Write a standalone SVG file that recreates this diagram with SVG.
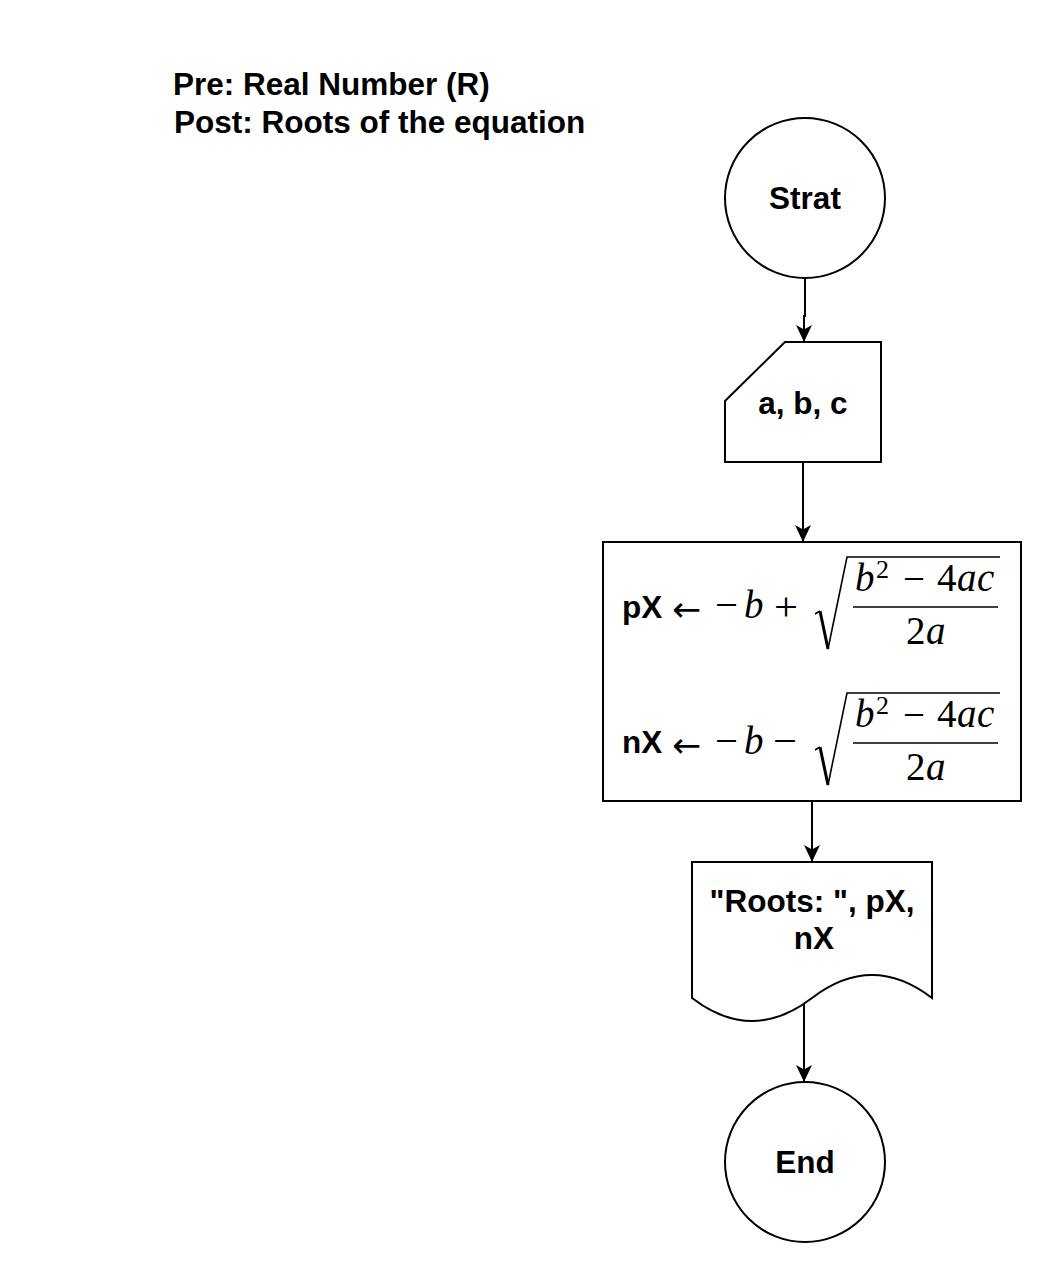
<svg xmlns="http://www.w3.org/2000/svg" width="1055" height="1274" viewBox="0 0 1055 1274">
<style>
.shape{fill:#fff;stroke:#000;stroke-width:2}
.lbl{font-family:"Liberation Sans",Arial,sans-serif;font-weight:bold;font-size:31.5px;fill:#000}
.c{text-anchor:middle}
.conn{fill:none;stroke:#000;stroke-width:2}
.mi{font-family:"Liberation Serif","Times New Roman",serif;font-style:italic;font-size:39px;fill:#000}
.mr{font-family:"Liberation Serif","Times New Roman",serif;font-size:39px;fill:#000}
.op{font-family:"Liberation Serif","Times New Roman",serif;font-size:40px;fill:#000}
.sup{font-family:"Liberation Serif","Times New Roman",serif;font-size:26px;fill:#000}
.arw{font-family:"DejaVu Sans",sans-serif;font-size:34px;fill:#000}
.rule{stroke:#000;stroke-width:1.6;fill:none}
</style>
<defs>
<marker id="ah" markerUnits="userSpaceOnUse" viewBox="0 0 17 16" markerWidth="17" markerHeight="16" refX="17" refY="8" orient="auto">
<path d="M0,0 L17,8 L0,16 L4.5,8 Z" fill="#000"/>
</marker>
</defs>
<rect width="1055" height="1274" fill="#fff"/>

<g id="title">
<text class="lbl" x="173" y="95">Pre: Real Number (R)</text>
<text class="lbl" x="174" y="133">Post: Roots of the equation</text>
</g>

<g id="connectors">
<path class="conn" d="M805,279 V316 H804 V342" marker-end="url(#ah)"/>
<path class="conn" d="M803,462 V542" marker-end="url(#ah)"/>
<path class="conn" d="M812,801 V862" marker-end="url(#ah)"/>
<path class="conn" d="M804,1002 V1082" marker-end="url(#ah)"/>
</g>

<g id="start">
<circle class="shape" cx="805" cy="198" r="80"/>
<text class="lbl c" x="805" y="209">Strat</text>
</g>

<g id="input">
<path class="shape" d="M785,342 H881 V462 H725 V401 Z"/>
<text class="lbl c" x="803" y="414">a, b, c</text>
</g>

<g id="process">
<rect class="shape" x="603" y="542" width="418" height="259"/>
<g id="row1">
<text class="lbl" x="622" y="618">pX</text>
<text class="arw" x="672" y="621" textLength="29" lengthAdjust="spacingAndGlyphs">←</text>
<text class="op" x="715" y="618" textLength="23" lengthAdjust="spacingAndGlyphs">−</text>
<text class="mi" x="744" y="618">b</text>
<text class="op" x="774" y="620" textLength="24" lengthAdjust="spacingAndGlyphs">+</text>
<path class="rule" d="M815,614 L820,611"/>
<path d="M820,611 L828,649" stroke="#000" stroke-width="3" fill="none"/>
<path class="rule" d="M828,649 L847,557 H1000"/>
<text class="mi" x="855" y="591">b</text>
<text class="sup" x="876" y="578">2</text>
<text class="op" x="903" y="592" textLength="22" lengthAdjust="spacingAndGlyphs">−</text>
<text class="mr" x="937" y="591">4</text>
<text class="mi" x="957" y="591">a</text>
<text class="mi" x="977" y="591">c</text>
<line class="rule" x1="853" y1="607" x2="998" y2="607"/>
<text class="mr" x="906" y="644">2</text>
<text class="mi" x="926" y="644">a</text>
</g>
<g id="row2" transform="translate(0,136)">
<text class="lbl" x="622" y="617">nX</text>
<text class="arw" x="672" y="621" textLength="29" lengthAdjust="spacingAndGlyphs">←</text>
<text class="op" x="715" y="618" textLength="23" lengthAdjust="spacingAndGlyphs">−</text>
<text class="mi" x="744" y="618">b</text>
<text class="op" x="773" y="618" textLength="24" lengthAdjust="spacingAndGlyphs">−</text>
<path class="rule" d="M815,614 L820,611"/>
<path d="M820,611 L828,649" stroke="#000" stroke-width="3" fill="none"/>
<path class="rule" d="M828,649 L847,557 H1000"/>
<text class="mi" x="855" y="591">b</text>
<text class="sup" x="876" y="578">2</text>
<text class="op" x="903" y="592" textLength="22" lengthAdjust="spacingAndGlyphs">−</text>
<text class="mr" x="937" y="591">4</text>
<text class="mi" x="957" y="591">a</text>
<text class="mi" x="977" y="591">c</text>
<line class="rule" x1="853" y1="607" x2="998" y2="607"/>
<text class="mr" x="906" y="644">2</text>
<text class="mi" x="926" y="644">a</text>
</g>
</g>

<g id="output">
<path class="shape" d="M692,862 H932 V998 Q872,952 812,998 Q752,1044 692,998 Z"/>
<text class="lbl c" x="812" y="912">"Roots: ", pX,</text>
<text class="lbl c" x="814" y="949">nX</text>
</g>

<g id="end">
<circle class="shape" cx="805" cy="1162" r="80"/>
<text class="lbl c" x="805" y="1173">End</text>
</g>
</svg>
